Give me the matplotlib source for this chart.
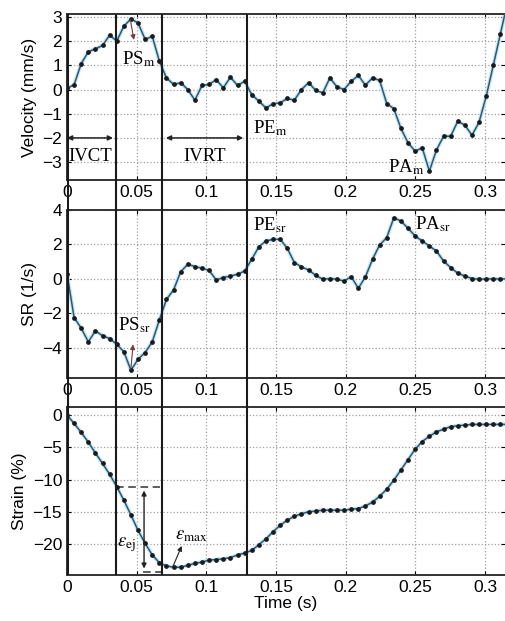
import numpy as np
import matplotlib
matplotlib.use("Agg")
import matplotlib.pyplot as plt

plt.rcParams['font.family'] = ['Liberation Sans', 'DejaVu Sans']
plt.rcParams['mathtext.fontset'] = 'stix'

# sampling interval of the tracked curves (s)
frame_dt = 0.0051

velocity = [0.05, 0.2, 1.07, 1.56, 1.68, 1.82, 2.25, 2.0, 2.62, 2.92,
            2.75, 2.07, 2.2, 1.17, 0.48, 0.21, 0.28, 0.0, -0.44, 0.17,
            0.21, 0.41, 0.07, 0.51, 0.17, 0.34, -0.21, -0.48, -0.76, -0.59,
            -0.55, -0.37, -0.44, 0.0, 0.28, -0.03, -0.14, 0.48, 0.11, 0.0,
            0.34, 0.58, 0.18, 0.48, 0.38, -0.58, -0.79, -1.61, -2.2, -2.55,
            -2.41, -3.37, -2.5, -1.93, -1.93, -1.31, -1.47, -1.89, -1.35, -0.28,
            1.0, 2.3, 3.6]

strain_rate = [0.3, -2.24, -2.86, -3.65, -3.01, -3.3, -3.46, -3.79, -4.23, -5.3,
               -4.66, -4.27, -3.65, -2.38, -1.18, -0.64, 0.42, 0.85, 0.72, 0.62,
               0.5, -0.06, 0.08, 0.17, 0.27, 0.46, 1.14, 1.87, 2.2, 2.3,
               2.3, 1.78, 0.95, 0.7, 0.52, 0.21, -0.02, 0.02, -0.02, -0.12,
               0.13, -0.54, 0.12, 1.14, 1.97, 2.4, 3.55, 3.36, 2.94, 2.49,
               2.2, 1.91, 1.62, 1.04, 0.66, 0.33, 0.17, 0.02, -0.02, 0.0,
               0.0, 0.0, 0.0]

strain = [0.0, -1.3, -2.7, -4.2, -5.9, -7.5, -9.2, -11.1, -13.2, -15.5,
          -17.9, -19.9, -21.7, -22.9, -23.4, -23.6, -23.6, -23.3, -23.0, -22.8,
          -22.5, -22.4, -22.3, -22.1, -21.7, -21.4, -21.0, -20.1, -19.2, -18.1,
          -17.1, -16.3, -15.7, -15.3, -15.0, -14.9, -14.75, -14.75, -14.75, -14.75,
          -14.6, -14.5, -14.1, -13.5, -12.6, -11.5, -10.1, -8.5, -6.9, -5.3,
          -4.1, -3.3, -2.6, -2.2, -1.8, -1.66, -1.55, -1.45, -1.45, -1.45,
          -1.45, -1.45, -1.45]

# event markers (s)
events = [0.0, 0.035, 0.068, 0.129]

xticks = [0, 0.05, 0.1, 0.15, 0.2, 0.25, 0.3]
xticklabels = ['0', '0.05', '0.1', '0.15', '0.2', '0.25', '0.3']

t = np.arange(len(velocity)) * frame_dt

fig = plt.figure(figsize=(5.05, 6.21), dpi=100)
left, width = 0.1327, 0.8673
boxes = [(0.7101, 0.2673), (0.3913, 0.2705), (0.0741, 0.2705)]
series = [velocity, strain_rate, strain]
ylabels = ['Velocity (mm/s)', 'SR (1/s)', 'Strain (%)']
ylims = [(-3.74, 3.12), (-5.75, 4.0), (-24.8, 1.25)]
yticks = [[-3, -2, -1, 0, 1, 2, 3], [-4, -2, 0, 2, 4], [-20, -15, -10, -5, 0]]
xmax = 0.3144

serif = {'family': 'Liberation Serif', 'size': 13.5}
axes = []
for (b, h), y, lab, yl, yt in zip(boxes, series, ylabels, ylims, yticks):
    ax = fig.add_axes([left, b, width, h])
    ax.plot(t, y, color='#c4e6f6', lw=2.8, solid_capstyle='round', zorder=2)
    ax.plot(t, y, color='#2b5874', lw=1.1, marker='o', ms=2.4,
            mfc='#1a1a1a', mec='#1a1a1a', zorder=3)
    ax.set_xlim(0, xmax)
    ax.set_ylim(*yl)
    ax.set_yticks(yt)
    ax.set_xticks(xticks)
    ax.set_xticklabels(xticklabels)
    ax.set_ylabel(lab, fontsize=12.5)
    ax.tick_params(labelsize=12.5, direction='in', length=3, top=True, right=True)
    ax.grid(True, color='#a0a0a0', linestyle=':', linewidth=0.9)
    for s in ax.spines.values():
        s.set_linewidth(1.4)
        s.set_color('#333333')
    ax.spines['right'].set_visible(False)
    axes.append(ax)

ax1, ax2, ax3 = axes

# Velocity annotations
ax1.annotate('', xy=(0.0, -2), xytext=(0.033, -2),
             arrowprops=dict(arrowstyle='<|-|>', color='#222222', lw=1.1,
                             mutation_scale=7, shrinkA=0, shrinkB=0))
ax1.annotate('', xy=(0.071, -2), xytext=(0.1265, -2),
             arrowprops=dict(arrowstyle='<|-|>', color='#222222', lw=1.1,
                             mutation_scale=7, shrinkA=0, shrinkB=0))
ax1.text(0.0008, -2.75, 'IVCT', fontdict=serif, va='center', ha='left')
ax1.text(0.099, -2.75, 'IVRT', fontdict=serif, va='center', ha='center')
ax1.annotate('', xy=(0.048, 2.05), xytext=(0.0455, 2.88),
             arrowprops=dict(arrowstyle='-|>', color='#7a3b3b', lw=0.8,
                             mutation_scale=7, shrinkA=0, shrinkB=0))
ax1.text(0.0395, 1.05, r'PS$_{\mathrm{m}}$', fontdict=serif, va='baseline')
ax1.text(0.1335, -1.8, r'PE$_{\mathrm{m}}$', fontdict=serif, va='baseline')
ax1.text(0.2305, -3.42, r'PA$_{\mathrm{m}}$', fontdict=serif, va='baseline')

# Strain-rate annotations
ax2.annotate('', xy=(0.0474, -3.8), xytext=(0.0459, -5.2),
             arrowprops=dict(arrowstyle='-|>', color='#7a3b3b', lw=0.8,
                             mutation_scale=7, shrinkA=0, shrinkB=0))
ax2.text(0.0366, -3.0, r'PS$_{\mathrm{sr}}$', fontdict=serif, va='baseline')
ax2.text(0.1335, 2.8, r'PE$_{\mathrm{sr}}$', fontdict=serif, va='baseline')
ax2.text(0.2495, 2.9, r'PA$_{\mathrm{sr}}$', fontdict=serif, va='baseline')

# Strain annotations
ax3.plot([0.035, 0.0665], [-11.1, -11.1], color='#333333', lw=1.1, ls=(0, (5, 3)))
ax3.plot([0.0545, 0.0685], [-24.3, -24.3], color='#333333', lw=1.1, ls=(0, (5, 3)))
ax3.annotate('', xy=(0.0553, -11.7), xytext=(0.0553, -23.8),
             arrowprops=dict(arrowstyle='<|-|>', color='#222222', lw=1.0,
                             mutation_scale=7, shrinkA=0, shrinkB=0))
ax3.text(0.0362, -20.4, r'$\varepsilon_{\mathrm{ej}}$', fontdict=serif, va='baseline')
ax3.annotate('', xy=(0.0823, -20.3), xytext=(0.076, -23.5),
             arrowprops=dict(arrowstyle='-|>', color='#222222', lw=0.8,
                             mutation_scale=7, shrinkA=0, shrinkB=0))
ax3.text(0.0775, -19.2, r'$\varepsilon_{\mathrm{max}}$', fontdict=serif, va='baseline')
ax3.set_xlabel('Time (s)', fontsize=12.5, labelpad=1)

# event lines spanning all three panels
top = boxes[0][0] + boxes[0][1]
bot = boxes[2][0]
over = fig.add_axes([left, bot, width, top - bot], zorder=5)
over.set_xlim(0, xmax)
over.set_ylim(0, 1)
over.axis('off')
over.patch.set_alpha(0)
for i, ev in enumerate(events):
    over.axvline(ev, color='#1a1a1a', lw=2.2 if i == 0 else 1.5)

fig.savefig('out.png', dpi=100)
